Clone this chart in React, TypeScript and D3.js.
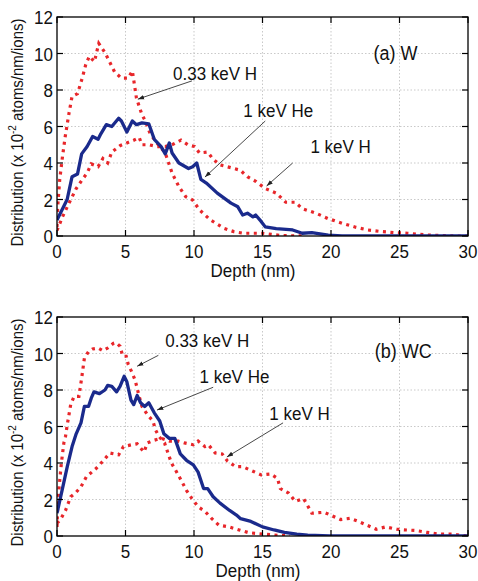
import React from 'react';
import * as d3 from 'd3';

// depth (nm), distribution (x 1e-2 atoms/nm/ions)
const heW: [number, number][] = [
  [0, 0.88], [0.74, 2.0], [1.1, 3.25], [1.5, 3.4], [1.8, 4.5], [2.2, 4.9], [2.6, 5.45], [3.0, 5.3],
  [3.2, 5.6], [3.6, 6.1], [4.0, 6.0], [4.5, 6.45], [4.7, 6.3], [5.1, 5.7], [5.5, 6.3], [5.8, 6.1],
  [6.2, 6.2], [6.7, 6.15], [7.1, 5.3], [7.6, 4.9], [7.9, 4.5], [8.2, 5.1], [8.4, 4.55], [8.9, 4.0],
  [9.6, 3.7], [9.9, 3.8], [10.2, 4.0], [10.5, 3.1], [10.9, 2.9], [11.7, 2.35], [12.7, 1.8],
  [13.2, 1.6], [13.55, 1.15], [13.9, 1.25], [14.3, 1.05], [14.5, 1.15], [14.9, 0.8], [15.2, 0.5],
  [16.0, 0.4], [17.2, 0.33], [17.9, 0.15], [18.6, 0.18], [19.8, 0.05], [20.8, 0], [30, 0],
];
const h033W: [number, number][] = [
  [0, 0.5], [0.05, 1.6], [0.2, 3.1], [0.4, 4.35], [0.6, 5.45], [0.87, 6.7], [1.1, 7.65], [1.5, 7.8],
  [1.86, 8.7], [2.1, 9.4], [2.36, 9.85], [2.73, 9.55], [3.05, 10.55], [3.5, 10.05], [4.2, 9.0],
  [4.7, 8.65], [5.2, 8.65], [5.5, 9.05], [5.7, 8.05], [5.8, 7.55], [6.2, 6.65], [6.45, 6.3],
  [6.8, 5.6], [7.4, 5.0], [7.9, 4.55], [8.4, 3.45], [8.9, 2.7], [9.4, 2.15], [9.9, 1.97],
  [10.4, 1.43], [11.2, 0.88], [12.2, 0.42], [12.9, 0.24], [13.6, 0.15], [15, 0.15], [16.4, 0.02],
  [18, 0],
];
const h1W: [number, number][] = [
  [0, 0.3], [0.4, 1.05], [0.75, 1.6], [1.4, 2.6], [1.9, 3.15], [2.2, 3.45], [2.5, 3.95], [3.0, 3.8],
  [3.35, 4.25], [3.7, 4.0], [4.0, 4.6], [4.6, 4.95], [5.1, 5.1], [5.6, 5.25], [6.0, 5.4], [6.2, 5.0],
  [6.7, 5.0], [7.3, 4.9], [7.9, 4.9], [8.4, 5.0], [9.05, 5.25], [9.55, 5.0], [10.05, 4.9],
  [10.4, 4.55], [11.0, 4.6], [11.4, 4.2], [11.9, 3.9], [12.9, 3.7], [13.4, 3.6], [13.6, 3.45],
  [13.9, 3.25], [14.5, 3.0], [15.2, 2.6], [16.0, 2.35], [16.7, 1.85], [17.4, 1.85], [17.9, 1.5],
  [18.9, 1.25], [19.8, 0.95], [20.8, 0.7], [21.8, 0.48], [22.7, 0.33], [23.7, 0.24], [24.7, 0.18],
  [25.6, 0.15], [27.1, 0.05], [29, 0], [30, 0],
];

const heWC: [number, number][] = [
  [0, 1.25], [0.37, 2.5], [0.75, 3.8], [1.1, 4.9], [1.4, 5.6], [1.75, 6.2], [2.0, 7.1], [2.3, 7.1],
  [2.5, 7.55], [2.7, 7.9], [3.1, 7.8], [3.5, 8.0], [3.7, 8.25], [4.0, 8.2], [4.35, 7.9], [4.6, 8.2],
  [4.9, 8.75], [5.1, 8.45], [5.4, 7.45], [5.6, 7.2], [5.85, 7.7], [6.1, 7.3], [6.4, 7.1], [6.7, 7.3],
  [7.1, 6.75], [7.5, 6.3], [7.8, 5.6], [8.2, 5.35], [8.6, 5.35], [9.0, 4.5], [9.45, 4.15],
  [9.95, 3.9], [10.3, 3.5], [10.7, 2.6], [11.0, 2.6], [11.4, 2.15], [11.9, 1.8], [12.6, 1.4],
  [13.1, 1.15], [13.4, 0.95], [14.15, 0.8], [15, 0.5], [15.85, 0.33], [16.6, 0.2], [17.5, 0.1],
  [18.3, 0.05], [19.9, 0], [30, 0],
];
const h033WC: [number, number][] = [
  [0, 0.5], [0.07, 2.0], [0.2, 3.05], [0.32, 4.0], [0.5, 5.1], [0.62, 5.45], [0.75, 6.1], [1.0, 7.2],
  [1.25, 7.65], [1.6, 7.65], [1.8, 8.65], [2.0, 9.75], [2.3, 10.1], [2.6, 10.25], [3.0, 10.3],
  [3.35, 10.15], [3.7, 10.3], [4.1, 10.55], [4.3, 10.6], [4.6, 10.4], [4.8, 9.85], [5.05, 9.85],
  [5.2, 9.4], [5.45, 9.0], [5.7, 8.55], [6.0, 7.65], [6.2, 7.1], [6.6, 6.65], [7.0, 6.3], [7.2, 5.8],
  [7.45, 5.45], [7.85, 5.1], [8.1, 4.55], [8.35, 4.0], [8.7, 3.55], [9.1, 3.0], [9.45, 2.5],
  [9.85, 2.05], [10.3, 1.6], [10.8, 1.35], [11.3, 0.95], [11.8, 0.6], [12.55, 0.5], [13.3, 0.33],
  [14, 0.18], [15.85, 0.05], [17, 0],
];
const h1WC: [number, number][] = [
  [0, 0.7], [0.25, 0.9], [0.62, 1.4], [1.0, 2.15], [1.4, 2.4], [1.75, 2.7], [2.15, 3.25], [2.85, 3.7],
  [3.35, 4.1], [3.85, 4.55], [4.5, 4.45], [4.85, 4.9], [5.45, 5.0], [5.85, 5.05], [6.35, 4.6],
  [6.6, 5.1], [7.1, 5.25], [7.6, 5.35], [8.2, 5.2], [8.85, 5.2], [9.3, 5.1], [9.95, 5.0], [10.3, 5.2],
  [10.8, 4.9], [11.05, 5.0], [11.55, 4.55], [12.05, 4.5], [12.45, 4.1], [13.05, 3.8], [13.55, 3.8],
  [14.3, 3.55], [14.9, 3.35], [15.6, 3.4], [16.1, 3.15], [16.3, 2.6], [16.9, 2.35], [17.4, 1.9],
  [18.0, 2.05], [18.6, 1.25], [19.5, 1.3], [20.1, 1.1], [20.7, 0.9], [21.4, 0.97], [22.0, 0.8],
  [22.6, 0.6], [23.3, 0.37], [24.0, 0.5], [24.8, 0.37], [25.5, 0.33], [26.2, 0.3], [27.0, 0.2],
  [27.9, 0.1], [28.9, 0.1], [29.4, 0.05], [30, 0],
];

const xTicks = [0, 5, 10, 15, 20, 25, 30];
const yTicks = [0, 2, 4, 6, 8, 10, 12];

type Note = { text: string; tx: number; ty: number; from: [number, number]; to: [number, number] };

const notesW: Note[] = [
  { text: '0.33 keV H', tx: 8.47, ty: 8.55, from: [9.85, 8.5], to: [5.9, 7.5] },
  { text: '1 keV He', tx: 13.6, ty: 6.5, from: [15.2, 6.3], to: [10.8, 3.23] },
  { text: '1 keV H', tx: 18.5, ty: 4.55, from: [17.2, 4.0], to: [15.3, 2.74] },
];
const notesWC: Note[] = [
  { text: '0.33 keV H', tx: 7.9, ty: 10.35, from: [7.4, 9.9], to: [5.85, 9.3] },
  { text: '1 keV He', tx: 10.4, ty: 8.4, from: [11.4, 8.15], to: [7.3, 6.9] },
  { text: '1 keV H', tx: 15.5, ty: 6.35, from: [16.5, 6.2], to: [12.4, 4.33] },
];

const FONT = '"Liberation Sans", Arial, sans-serif';
const RED = '#e8262a';
const BLUE = '#1a2a8c';
const STRETCH = 1.13; // glyphs in the figure look a bit taller than wide

function T({ x, y, size, anchor = 'start', children }: { x: number; y: number; size: number; anchor?: string; children: React.ReactNode }) {
  return (
    <text transform={`translate(${x},${y}) scale(1,${STRETCH})`} textAnchor={anchor} fontSize={size} fontFamily={FONT} fill="#111">
      {children}
    </text>
  );
}

function Panel({ top, bottom, label, labelPos, he, h033, h1, notes, id, depthX }: {
  top: number; bottom: number; label: string; labelPos: [number, number]; id: string; depthX: number;
  he: [number, number][]; h033: [number, number][]; h1: [number, number][]; notes: Note[];
}) {
  const left = 57, right = 468;
  const x = d3.scaleLinear().domain([0, 30]).range([left, right]);
  const y = d3.scaleLinear().domain([0, 12]).range([bottom, top]);
  const line = d3.line<[number, number]>().x(d => x(d[0])).y(d => y(d[1]));
  const tk = 6;

  return (
    <g>
      <defs>
        <clipPath id={'clip' + id}>
          <rect x={left} y={top} width={right - left} height={bottom - top} />
        </clipPath>
        <marker id={'arr' + id} viewBox="0 0 10 10" refX="10" refY="5" markerWidth="7" markerHeight="7" orient="auto">
          <path d="M0,1.5 L10,5 L0,8.5 z" fill="#222" />
        </marker>
      </defs>
      {/* grid */}
      {xTicks.slice(1, -1).map(t => (
        <line key={'gx' + t} x1={x(t)} x2={x(t)} y1={top} y2={bottom} stroke="#bbb" strokeWidth={0.8} strokeDasharray="1.5 2" />
      ))}
      {yTicks.slice(1, -1).map(t => (
        <line key={'gy' + t} x1={left} x2={right} y1={y(t)} y2={y(t)} stroke="#bbb" strokeWidth={0.8} strokeDasharray="1.5 2" />
      ))}
      <g clipPath={`url(#clip${id})`}>
        <path d={line(h1) ?? ''} fill="none" stroke={RED} strokeWidth={3.2} strokeDasharray="3 4.5" />
        <path d={line(h033) ?? ''} fill="none" stroke={RED} strokeWidth={3.2} strokeDasharray="3 4.5" />
        <path d={line(he) ?? ''} fill="none" stroke={BLUE} strokeWidth={3.3} strokeLinejoin="round" />
      </g>
      {/* box + ticks */}
      <rect x={left} y={top} width={right - left} height={bottom - top} fill="none" stroke="#000" strokeWidth={1.3} />
      {xTicks.map(t => (
        <g key={'tx' + t}>
          <line x1={x(t)} x2={x(t)} y1={bottom} y2={bottom - tk} stroke="#000" strokeWidth={1.2} />
          <line x1={x(t)} x2={x(t)} y1={top} y2={top + tk} stroke="#000" strokeWidth={1.2} />
          <T x={x(t)} y={bottom + 22} size={17} anchor="middle">{t}</T>
        </g>
      ))}
      {yTicks.map(t => (
        <g key={'ty' + t}>
          <line x1={left} x2={left + tk} y1={y(t)} y2={y(t)} stroke="#000" strokeWidth={1.2} />
          <line x1={right} x2={right - tk} y1={y(t)} y2={y(t)} stroke="#000" strokeWidth={1.2} />
          <T x={left - 4} y={y(t) + 7} size={17} anchor="end">{t}</T>
        </g>
      ))}
      <T x={depthX} y={bottom + 41} size={17} anchor="middle">Depth (nm)</T>
      <text transform={`translate(23, ${(top + bottom) / 2 + 6}) rotate(-90) scale(1,${STRETCH})`} textAnchor="middle" fontSize={15} fontFamily={FONT} fill="#111">
        Distribution (x 10<tspan dy={-6} fontSize={10}>-2</tspan><tspan dy={6}> atoms/nm/ions)</tspan>
      </text>
      <T x={x(labelPos[0])} y={y(labelPos[1])} size={18}>{label}</T>
      {notes.map(n => (
        <g key={n.text}>
          <T x={x(n.tx)} y={y(n.ty)} size={17}>{n.text}</T>
          <line x1={x(n.from[0])} y1={y(n.from[1])} x2={x(n.to[0])} y2={y(n.to[1])} stroke="#333" strokeWidth={0.9} markerEnd={`url(#arr${id})`} />
        </g>
      ))}
    </g>
  );
}

export default function App() {
  return (
    <div style={{ position: 'fixed', left: 0, top: 0 }}>
      <svg width={478} height={581} style={{ display: 'block', background: '#fff' }}>
        <Panel id="a" top={17} bottom={236} label="(a) W" labelPos={[23.1, 9.64]} depthX={253}
          he={heW} h033={h033W} h1={h1W} notes={notesW} />
        <Panel id="b" top={317} bottom={536} label="(b) WC" labelPos={[23.2, 9.75]} depthX={258}
          he={heWC} h033={h033WC} h1={h1WC} notes={notesWC} />
      </svg>
    </div>
  );
}
